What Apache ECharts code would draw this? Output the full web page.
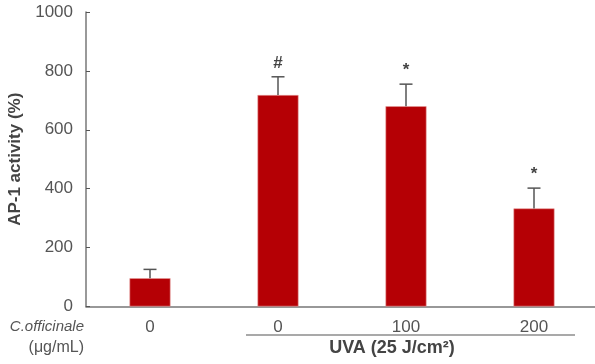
<!DOCTYPE html>
<html><head><meta charset="utf-8">
<script src="https://cdn.jsdelivr.net/npm/echarts@6/dist/echarts.min.js"></script>
<style>html,body{margin:0;padding:0;background:#fff}#c{width:595px;height:364px}</style>
</head><body><div id="c"></div>
<script>
var categories = ['0', '0', '100', '200'];
var values = [96, 718, 680, 333];
var errorTops = [126, 780, 755, 402];
var marks = ['', '#', '*', '*'];
var yTicks = [0, 200, 400, 600, 800, 1000];

var FONT = '"Liberation Sans",Arial,sans-serif';
var chart = echarts.init(document.getElementById('c'));
var errData = categories.map(function (c, i) { return [i, values[i], errorTops[i], marks[i]]; });

chart.setOption({
  animation: false,
  grid: { left: 86, right: -3, top: 12, bottom: 57.5, containLabel: false, outerBoundsMode: 'none' },
  xAxis: {
    type: 'category', data: categories,
    axisLine: { lineStyle: { color: '#777', width: 1.5 } },
    axisTick: { inside: true, length: 4, lineStyle: { color: '#555' } },
    axisLabel: { color: '#555', fontSize: 17, fontFamily: FONT, margin: 12 }
  },
  yAxis: {
    type: 'value', min: yTicks[0], max: yTicks[yTicks.length - 1], interval: 200,
    name: 'AP-1 activity (%)', nameLocation: 'middle', nameGap: 55,
    nameTextStyle: { color: '#444', fontSize: 17, fontWeight: 'bold', fontFamily: FONT },
    axisLine: { show: true, lineStyle: { color: '#777', width: 1.5 } },
    axisTick: { show: true, inside: true, length: 4, lineStyle: { color: '#555' } },
    splitLine: { show: false },
    axisLabel: { color: '#555', fontSize: 17, fontFamily: FONT, margin: 13, formatter: function (v) { return String(v); } }
  },
  series: [
    {
      type: 'bar', data: values, barWidth: 41,
      itemStyle: { color: '#b50005', borderColor: '#e59a9a', borderWidth: 0.6 }
    },
    {
      type: 'custom', data: errData, z: 3,
      renderItem: function (params, api) {
        var x = api.coord([api.value(0), api.value(1)]);
        var t = api.coord([api.value(0), api.value(2)]);
        var mark = marks[params.dataIndex];
        var children = [
          { type: 'line', shape: { x1: x[0], y1: x[1], x2: t[0], y2: t[1] }, style: { stroke: '#555', lineWidth: 1.5 } },
          { type: 'line', shape: { x1: t[0] - 6.5, y1: t[1], x2: t[0] + 6.5, y2: t[1] }, style: { stroke: '#555', lineWidth: 1.5 } }
        ];
        if (mark) {
          children.push({ type: 'text', style: { text: mark, x: t[0], y: t[1] - 5, textAlign: 'center', textVerticalAlign: 'bottom', fill: '#444', fontSize: 17, fontWeight: 'bold', fontFamily: FONT } });
        }
        return { type: 'group', children: children };
      }
    }
  ],
  graphic: [
    { type: 'text', x: 84, y: 327, style: { text: 'C.officinale', fill: '#555', fontSize: 15, fontStyle: 'italic', fontFamily: FONT, textAlign: 'right', textVerticalAlign: 'middle' } },
    { type: 'text', x: 84, y: 348, style: { text: '(μg/mL)', fill: '#555', fontSize: 16, fontFamily: FONT, textAlign: 'right', textVerticalAlign: 'middle' } },
    { type: 'line', shape: { x1: 246, y1: 335, x2: 575, y2: 335 }, style: { stroke: '#555', lineWidth: 1.2 } },
    { type: 'text', x: 392, y: 348, style: { text: 'UVA (25 J/cm²)', fill: '#444', fontSize: 18, fontWeight: 'bold', fontFamily: FONT, textAlign: 'center', textVerticalAlign: 'middle' } }
  ]
});
</script></body></html>
